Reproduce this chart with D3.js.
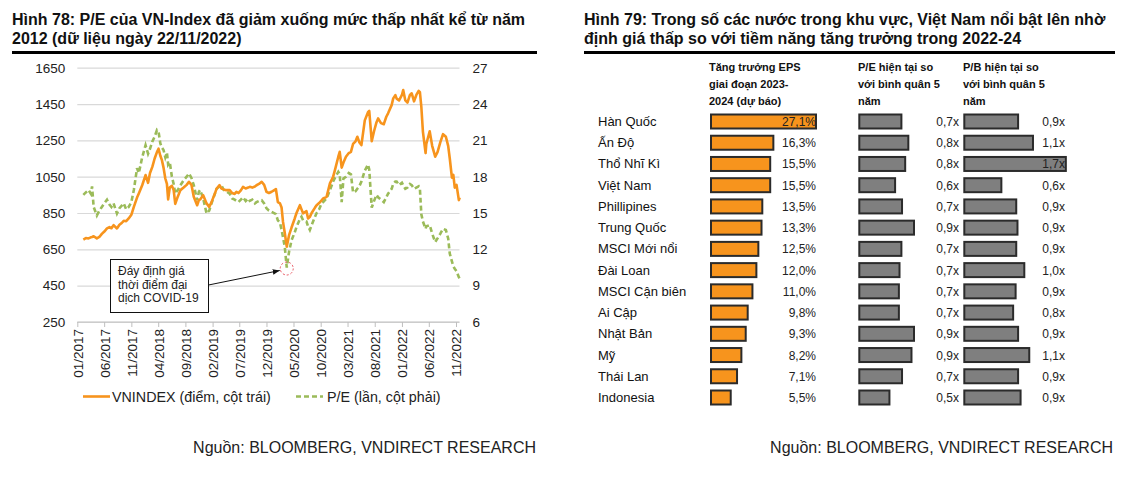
<!DOCTYPE html>
<html>
<head>
<meta charset="utf-8">
<script src="https://cdn.jsdelivr.net/npm/d3@7"></script>
<style>
  body { margin: 0; background: #fff; }
  svg { font-family: "Liberation Sans", Arial, sans-serif; }
</style>
</head>
<body>
<div id="chart"></div>
<script>
// ---- Hinh 78: VNINDEX va P/E ----
var dates = [
  "2017-02-04","2017-02-18","2017-03-05","2017-03-18","2017-03-25","2017-04-03","2017-04-21","2017-05-05","2017-05-19","2017-06-02",
  "2017-06-17","2017-07-01","2017-07-12","2017-07-24","2017-08-12","2017-08-26","2017-09-08","2017-09-19","2017-10-03","2017-10-17",
  "2017-11-01","2017-11-15","2017-12-03","2017-12-13","2018-01-01","2018-01-20","2018-02-03","2018-02-14","2018-02-27","2018-03-12",
  "2018-03-25","2018-04-03","2018-04-13","2018-04-22","2018-05-01","2018-05-11","2018-05-20","2018-05-27","2018-06-05","2018-06-17",
  "2018-06-27","2018-07-06","2018-07-20","2018-08-04","2018-08-22","2018-09-08","2018-09-21","2018-10-05","2018-10-18","2018-11-06",
  "2018-11-16","2018-11-23","2018-12-10","2018-12-29","2019-01-13","2019-01-26","2019-02-14","2019-02-24","2019-03-12","2019-03-22",
  "2019-04-05","2019-04-19","2019-05-08","2019-05-22","2019-06-05","2019-06-15","2019-06-26","2019-07-10","2019-07-22","2019-08-06",
  "2019-08-20","2019-08-29","2019-09-12","2019-09-27","2019-10-06","2019-10-20","2019-11-04","2019-11-18","2019-12-01","2019-12-15",
  "2019-12-30","2020-01-12","2020-01-23","2020-02-03","2020-02-15","2020-02-24","2020-03-03","2020-03-13","2020-03-24","2020-04-06",
  "2020-04-20","2020-05-08","2020-05-18","2020-06-06","2020-06-15","2020-06-24","2020-07-13","2020-07-22","2020-08-01","2020-08-11",
  "2020-08-30","2020-09-08","2020-09-22","2020-10-06","2020-10-15","2020-11-03","2020-11-22","2020-12-10","2020-12-20","2021-01-08",
  "2021-01-16","2021-01-27","2021-02-06","2021-02-20","2021-03-08","2021-03-20","2021-04-01","2021-04-15","2021-04-25","2021-05-06",
  "2021-05-18","2021-06-06","2021-06-24","2021-07-01","2021-07-15","2021-07-28","2021-08-11","2021-08-20","2021-09-05","2021-09-21",
  "2021-10-05","2021-10-15","2021-11-04","2021-11-13","2021-11-25","2021-12-02","2021-12-16","2022-01-01","2022-01-08","2022-01-20",
  "2022-02-01","2022-02-15","2022-02-25","2022-03-10","2022-03-23","2022-04-05","2022-04-12","2022-04-20","2022-04-29","2022-05-14",
  "2022-05-18","2022-06-06","2022-06-20","2022-07-07","2022-07-20","2022-08-05","2022-08-20","2022-09-05","2022-09-18","2022-09-27",
  "2022-10-09","2022-10-17","2022-10-25","2022-11-04","2022-11-17","2022-11-22"
];
var vnindex = [
  704,712,710,716,718,722,710,718,735,748,
  765,772,766,783,765,785,795,807,805,820,
  840,884,935,958,1003,1059,1016,1070,1104,1150,
  1185,1204,1165,1141,1100,1040,1010,925,990,1000,
  976,900,940,976,990,1005,1022,1005,939,893,
  921,925,948,903,884,910,958,985,1003,985,
  980,976,976,960,955,967,960,975,994,985,
  990,994,990,996,1003,1010,1022,1005,967,960,
  967,975,982,910,903,880,801,740,665,728,
  770,820,850,893,870,848,860,820,829,850,
  880,893,905,920,930,939,1013,1050,1086,1160,
  1187,1100,1128,1160,1180,1187,1230,1245,1270,1240,
  1224,1360,1405,1412,1246,1300,1350,1371,1345,1339,
  1380,1399,1444,1481,1499,1480,1470,1500,1527,1470,
  1458,1500,1509,1465,1500,1522,1515,1435,1297,1180,
  1230,1300,1220,1160,1185,1240,1284,1270,1220,1150,
  1045,1060,990,1005,921,935
];
var pe = [
  16.5,16.7,16.9,16.6,17.2,15.5,14.8,15.2,15.5,15.8,
  16.1,15.7,15.5,15.8,14.96,15.4,15.6,15.8,15.3,15.5,
  15.9,16.9,18.7,18.3,19.6,20.6,19.9,20.3,20.9,21.3,
  21.85,21.7,20.75,20.4,20.2,19.6,20.0,19.0,19.2,18.0,
  17.4,16.6,16.9,17.3,17.7,18.0,18.27,17.9,17.3,16.06,
  16.75,16.9,16.2,14.96,15.2,15.8,16.6,17.0,17.2,17.3,
  16.9,16.8,16.6,16.2,16.1,16.0,15.9,16.1,16.3,16.0,
  16.2,16.0,16.1,15.8,15.9,16.0,16.06,15.8,15.4,15.2,
  15.1,15.0,14.9,14.4,14.2,13.6,13.0,12.2,10.5,11.8,
  12.75,13.4,13.85,14.5,14.7,14.4,14.3,13.9,13.6,14.0,
  14.7,15.0,15.3,15.8,15.9,16.2,16.9,17.6,17.9,18.4,
  18.2,15.9,17.85,18.0,18.3,18.2,16.7,16.8,17.0,17.2,
  17.6,18.5,19.0,18.6,15.45,16.0,16.5,16.3,16.1,15.9,
  16.3,16.6,17.0,17.4,17.6,17.6,17.3,17.5,17.3,17.0,
  17.1,17.4,17.3,17.0,17.1,17.2,17.0,14.9,14.3,13.7,
  13.9,14.0,13.3,12.6,12.9,13.3,13.7,13.6,12.9,11.65,
  11.0,10.6,10.4,10.2,9.7,9.6
];
var leftTicks = [250, 450, 650, 850, 1050, 1250, 1450, 1650];
var rightTicks = [6, 9, 12, 15, 18, 21, 24, 27];
var xTickLabels = ["01/2017","06/2017","11/2017","04/2018","09/2018","02/2019","07/2019","12/2019",
  "05/2020","10/2020","03/2021","08/2021","01/2022","06/2022","11/2022"];

// ---- Hinh 79: bang so sanh ----
var countries = ["Hàn Quốc","Ấn Độ","Thổ Nhĩ Kì","Việt Nam","Phillipines","Trung Quốc","MSCI Mới nổi",
  "Đài Loan","MSCI Cận biên","Ai Cập","Nhật Bản","Mỹ","Thái Lan","Indonesia"];
var epsGrowth = [27.1,16.3,15.5,15.5,13.5,13.3,12.5,12.0,11.0,9.8,9.3,8.2,7.1,5.5];
var peRel = [0.70,0.81,0.76,0.60,0.71,0.90,0.70,0.67,0.66,0.66,0.90,0.86,0.71,0.51];
var pbRel = [0.90,1.14,1.67,0.63,0.87,0.89,0.87,1.00,0.86,0.82,0.90,1.08,0.90,0.94];

var W = 1132, H = 477;
var svg = d3.select("#chart").append("svg").attr("width", W).attr("height", H);

var parse = d3.timeParse("%Y-%m-%d");
var parseTick = d3.timeParse("%m/%Y");

// titles
function title(x, x2, lines) {
  lines.forEach(function (t, i) {
    svg.append("text").attr("x", x).attr("y", 25 + i * 19)
      .style("font-size", "16px").style("font-weight", "bold").attr("fill", "#111").text(t);
  });
  svg.append("line").attr("x1", x).attr("x2", x2).attr("y1", 52.5).attr("y2", 52.5)
    .attr("stroke", "#000").attr("stroke-width", 3);
}
title(12, 537, ["Hình 78: P/E của VN-Index đã giảm xuống mức thấp nhất kể từ năm", "2012 (dữ liệu ngày 22/11/2022)"]);
title(584, 1115, ["Hình 79: Trong số các nước trong khu vực, Việt Nam nổi bật lên nhờ", "định giá thấp so với tiềm năng tăng trưởng trong 2022-24"]);

// ----- left chart -----
var pLeft = 77.3, pRight = 459.5, pTop = 67.7, pBottom = 322;
var x = d3.scaleTime()
  .domain([parseTick("01/2017"), parseTick("11/2022")])
  .range([pLeft, 456]);
var yL = d3.scaleLinear().domain([250, 1650]).range([pBottom, pTop]);
var yR = d3.scaleLinear().domain([6, 27]).range([pBottom, pTop]);

var gy = svg.append("g").attr("transform", "translate(" + pLeft + ",0)")
  .call(d3.axisLeft(yL).tickValues(leftTicks).tickSize(-(pRight - pLeft)).tickPadding(12).tickFormat(d3.format("d")));
gy.select(".domain").remove();
gy.selectAll("line").attr("stroke", "#d9d9d9").attr("stroke-width", 1.2);
gy.selectAll("text").style("font-size", "13.5px").attr("fill", "#222").style("font-family", "Liberation Sans, Arial");

var gr = svg.append("g").attr("transform", "translate(" + pRight + ",0)")
  .call(d3.axisRight(yR).tickValues(rightTicks).tickSize(0).tickPadding(13));
gr.select(".domain").remove();
gr.selectAll("text").style("font-size", "13.5px").attr("fill", "#222").style("font-family", "Liberation Sans, Arial");

var gx = svg.append("g").attr("transform", "translate(0," + pBottom + ")")
  .call(d3.axisBottom(x).tickValues(xTickLabels.map(parseTick)).tickSize(5).tickFormat(d3.timeFormat("%m/%Y")));
gx.select(".domain").attr("d", "M" + pLeft + ",0H" + pRight).attr("stroke", "#bfbfbf").attr("stroke-width", 1.2);
gx.selectAll("line").attr("stroke", "#bfbfbf");
gx.selectAll("text")
  .attr("transform", "rotate(-90)")
  .attr("text-anchor", "end")
  .attr("x", -7).attr("y", 0).attr("dy", "0.36em")
  .style("font-size", "13.5px").attr("fill", "#222").style("font-family", "Liberation Sans, Arial");

var series = dates.map(function (d, i) { return { date: parse(d), vn: vnindex[i], pe: pe[i] }; });

svg.append("path").datum(series)
  .attr("fill", "none").attr("stroke", "#9bbb59").attr("stroke-width", 2.6)
  .attr("stroke-dasharray", "5,3")
  .attr("d", d3.line().x(function (d) { return x(d.date); }).y(function (d) { return yR(d.pe); }));

svg.append("path").datum(series)
  .attr("fill", "none").attr("stroke", "#f7941d").attr("stroke-width", 2.6)
  .attr("stroke-linejoin", "round")
  .attr("d", d3.line().x(function (d) { return x(d.date); }).y(function (d) { return yL(d.vn); }));

// annotation
var low = series[d3.minIndex(series.slice(0, 120), function (d) { return d.pe; })];
var cx = x(low.date), cy = yR(low.pe) + 1;
svg.append("circle").attr("cx", cx).attr("cy", cy).attr("r", 6.5)
  .attr("fill", "none").attr("stroke", "#e8505b").attr("stroke-width", 1).attr("stroke-dasharray", "2,2");
svg.append("defs").append("marker").attr("id", "arr").attr("viewBox", "0 0 10 10")
  .attr("refX", 10).attr("refY", 5).attr("markerWidth", 7).attr("markerHeight", 7).attr("orient", "auto")
  .append("path").attr("d", "M0,1L10,5L0,9z").attr("fill", "#111");
svg.append("line").attr("x1", 208.5).attr("y1", 285).attr("x2", cx - 7).attr("y2", cy + 2)
  .attr("stroke", "#111").attr("stroke-width", 1).attr("marker-end", "url(#arr)");
svg.append("rect").attr("x", 110.5).attr("y", 259.5).attr("width", 98).attr("height", 53)
  .attr("fill", "#fff").attr("stroke", "#111").attr("stroke-width", 1);
["Đáy định giá", "thời điểm đại", "dịch COVID-19"].forEach(function (t, i) {
  svg.append("text").attr("x", 118).attr("y", 275 + i * 13.5).style("font-size", "12px").attr("fill", "#222").text(t);
});

// legend
svg.append("line").attr("x1", 83).attr("x2", 110).attr("y1", 396.5).attr("y2", 396.5)
  .attr("stroke", "#f7941d").attr("stroke-width", 2.6);
svg.append("text").attr("x", 112).attr("y", 401.5).style("font-size", "14.3px").attr("fill", "#222")
  .text("VNINDEX (điểm, cột trái)");
svg.append("line").attr("x1", 296).attr("x2", 323).attr("y1", 396.5).attr("y2", 396.5)
  .attr("stroke", "#9bbb59").attr("stroke-width", 2.6).attr("stroke-dasharray", "5,3");
svg.append("text").attr("x", 327).attr("y", 401.5).style("font-size", "14.3px").attr("fill", "#222")
  .text("P/E (lần, cột phải)");

// sources
svg.append("text").attr("x", 536).attr("y", 453).attr("text-anchor", "end")
  .style("font-size", "16px").attr("fill", "#222").text("Nguồn: BLOOMBERG, VNDIRECT RESEARCH");
svg.append("text").attr("x", 1113).attr("y", 453).attr("text-anchor", "end")
  .style("font-size", "16px").attr("fill", "#222").text("Nguồn: BLOOMBERG, VNDIRECT RESEARCH");

// ----- right chart -----
var rowY = d3.scalePoint().domain(countries).range([121.5, 397.5]);
var epsX = d3.scaleLinear().domain([0, 27.1]).range([710, 817]);
var peX = d3.scaleLinear().domain([0, 1]).range([858.3, 921.3]);
var pbX = d3.scaleLinear().domain([0, 1]).range([963.3, 1025.3]);
var comma = function (f) { return function (v) { return d3.format(f)(v).replace(".", ","); }; };

var headers = [
  { x: 709, lines: ["Tăng trưởng EPS", "giai đoạn 2023-", "2024 (dự báo)"] },
  { x: 858, lines: ["P/E hiện tại so", "với bình quân 5", "năm"] },
  { x: 963, lines: ["P/B hiện tại so", "với bình quân 5", "năm"] }
];
headers.forEach(function (h) {
  h.lines.forEach(function (t, i) {
    svg.append("text").attr("x", h.x).attr("y", 71 + i * 17).style("font-size", "11px")
      .style("font-weight", "bold").attr("fill", "#111").text(t);
  });
});

svg.selectAll(".country").data(countries).enter().append("text")
  .attr("x", 598).attr("y", function (d) { return rowY(d) + 4.5; })
  .style("font-size", "13px").attr("fill", "#111").text(function (d) { return d; });

function barCol(values, scale, fill, labelX, fmt, suffix) {
  var g = svg.append("g");
  g.selectAll("rect").data(values).enter().append("rect")
    .attr("x", scale(0) + 1)
    .attr("y", function (d, i) { return rowY(countries[i]) - 7; })
    .attr("width", function (d) { return scale(d) - scale(0) - 2; })
    .attr("height", 14)
    .attr("fill", fill).attr("stroke", "#2b2b2b").attr("stroke-width", 2);
  g.selectAll("text").data(values).enter().append("text")
    .attr("x", labelX).attr("y", function (d, i) { return rowY(countries[i]) + 4.5; })
    .attr("text-anchor", "end").style("font-size", "12px").attr("fill", "#222")
    .text(function (d) { return comma(fmt)(d) + suffix; });
}
barCol(epsGrowth, epsX, "#f7941d", 816, ".1f", "%");
barCol(peRel, peX, "#7f7f7f", 959, ".1f", "x");
barCol(pbRel, pbX, "#7f7f7f", 1065, ".1f", "x");
</script>
</body>
</html>
